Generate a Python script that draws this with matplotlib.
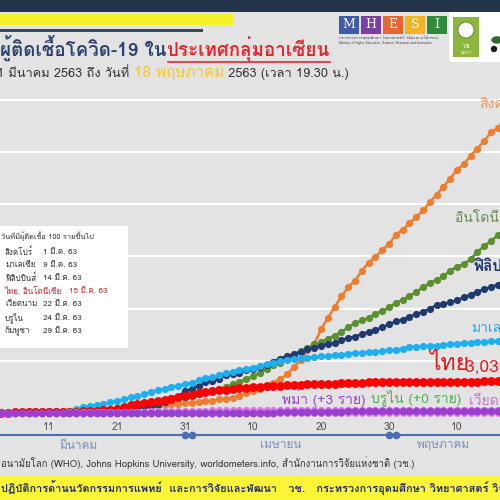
import numpy as np
import matplotlib
matplotlib.use("Agg")
from matplotlib import pyplot as plt
from matplotlib import font_manager as fm
from matplotlib.ft2font import FT2Font
from matplotlib.patches import Rectangle, Circle, Ellipse

# find a font that can draw Thai
thai_font = None
prefer = ['Noto Sans Thai', 'Noto Sans Thai UI', 'Loma', 'Garuda', 'Sarabun', 'Kinnari', 'Norasi']
names = sorted(fm.fontManager.ttflist, key=lambda f: (f.name not in prefer, f.name))
for f in names:
    try:
        if 0x0E01 in FT2Font(f.fname).get_charmap():
            thai_font = f.name
            break
    except Exception:
        pass
fams = [thai_font, 'DejaVu Sans'] if thai_font else ['DejaVu Sans']
plt.rcParams['font.family'] = fams

# cumulative cases, 1 Mar - 18 May 2563
singapore = [106,108,110,112,117,130,138,150,160,166,178,187,200,212,226,243,266,313,345,385,432,455,509,558,631,683,732,802,844,879,926,
             1000,1049,1114,1189,1309,1375,1481,1623,1910,2108,2299,2532,2918,3252,3699,4427,5050,5992,6588,8014,9125,10141,11178,12075,12693,13624,14423,14951,15641,16169,
             17101,17548,18205,18778,19410,20198,20939,21707,22460,23336,23822,24671,25346,26098,26891,27356,28038,28343]
indonesia = [0,2,2,2,2,4,4,6,19,27,34,34,69,96,117,134,172,227,311,369,450,514,579,686,790,893,1046,1155,1285,1414,1528,
             1677,1790,1986,2092,2273,2491,2738,2956,3293,3512,3842,4241,4557,4839,5136,5516,5923,6248,6575,6760,7135,7418,7775,8211,8607,8882,9096,9511,9771,10118,
             10551,10843,11192,11587,12071,12438,12776,13112,13645,14032,14265,14749,15438,16006,16496,17025,17514,18010]
philippines = [3,3,3,3,3,5,6,10,24,33,49,52,64,111,140,142,187,202,217,230,307,380,462,552,636,707,803,1075,1418,1546,2084,
               2311,2633,3018,3094,3246,3660,3764,3870,4076,4195,4428,4648,4932,5223,5453,5660,5878,6087,6259,6459,6599,6710,6981,7192,7294,7579,7777,7958,8212,8488,
               8772,8928,9223,9485,9684,10004,10343,10463,10610,10794,11086,11350,11618,11876,12091,12305,12513,12718]
malaysia = [29,29,36,50,50,83,93,99,117,129,149,149,197,238,428,566,673,790,900,1030,1183,1306,1518,1624,1796,2031,2161,2320,2470,2626,2766,
            2908,3116,3333,3483,3662,3793,3963,4119,4228,4346,4530,4683,4817,4987,5072,5182,5251,5305,5389,5425,5482,5532,5603,5691,5742,5780,5820,5851,5945,6002,
            6071,6176,6298,6353,6383,6428,6467,6535,6589,6656,6726,6742,6779,6819,6855,6872,6894,6941]
thailand = [42,43,43,43,47,48,50,50,50,53,59,70,75,82,114,147,177,212,272,322,411,599,721,827,934,1045,1136,1245,1388,1524,1651,
            1771,1875,1978,2067,2169,2220,2258,2369,2423,2473,2518,2551,2579,2613,2643,2672,2700,2733,2765,2792,2811,2826,2839,2854,2907,2922,2931,2938,2947,2954,
            2960,2966,2969,2987,2988,2989,2992,3000,3004,3009,3015,3017,3018,3025,3025,3025,3028,3031]
vietnam = [16,16,16,16,16,16,18,30,31,34,39,44,47,53,57,61,66,75,85,91,94,113,123,134,141,153,163,174,188,203,212,
           218,233,237,240,241,245,249,251,255,257,258,262,265,266,267,268,268,268,268,268,268,268,268,268,270,270,270,270,270,270,
           270,271,271,271,271,271,288,288,288,288,288,288,288,300,312,314,318,318]
myanmar = [0,0,0,0,0,0,0,0,0,0,0,0,0,0,0,0,0,0,0,0,0,0,3,3,5,8,8,10,10,14,15,
           15,20,21,21,21,22,22,22,23,27,28,39,41,62,74,85,88,98,111,119,121,127,139,144,144,146,146,146,150,151,
           151,151,155,155,161,161,161,171,177,178,180,180,180,180,181,182,182,184]
brunei = [0,0,0,0,0,0,0,0,1,1,6,11,25,37,40,50,54,68,75,78,83,88,91,104,104,109,114,115,120,126,127,
          129,131,133,134,135,135,135,135,135,136,136,136,136,136,136,136,136,137,138,138,138,138,138,138,138,138,138,138,138,138,
          138,138,138,138,138,138,138,141,141,141,141,141,141,141,141,141,141,141]
cambodia = [1,1,1,1,1,1,2,2,2,3,3,5,7,7,12,24,33,35,37,51,53,84,87,91,96,96,99,103,103,107,109,
            109,110,114,114,115,115,117,117,119,119,119,120,122,122,122,122,122,122,122,122,122,122,122,122,122,122,122,122,122,122,
            122,122,122,122,122,122,122,122,122,122,122,122,122,122,122,122,122,122]
laos = [0,0,0,0,0,0,0,0,0,0,0,0,0,0,0,0,0,0,0,0,0,0,0,2,3,6,6,8,8,9,9,
        10,10,10,11,11,12,15,16,16,19,19,19,19,19,19,19,19,19,19,19,19,19,19,19,19,19,19,19,19,19,
        19,19,19,19,19,19,19,19,19,19,19,19,19,19,19,19,19,19]
days = np.arange(1, len(singapore) + 1)

tick_days = [11, 21, 31, 41, 51, 61, 71]
tick_labels = ['11', '21', '31', '10', '20', '30', '10']
months = ['มีนาคม', 'เมษายน', 'พฤษภาคม']
month_pos = [15.3, 45, 69]

first100_names = ['สิงคโปร์', 'มาเลเซีย', 'ฟิลิปปินส์', 'ไทย, อินโดนีเซีย', 'เวียดนาม', 'บรูไน', 'กัมพูชา']
first100_dates = ['1 มี.ค. 63', '9 มี.ค. 63', '14 มี.ค. 63', '15 มี.ค. 63', '22 มี.ค. 63', '24 มี.ค. 63', '29 มี.ค. 63']

bg = '#e4e3e3'
fig = plt.figure(figsize=(5, 5), dpi=100, facecolor=bg)

def fx(px):
    return px / 500.0

def fy(py):
    return 1 - py / 500.0

def box(x0, y0, x1, y1, color, z=1):
    fig.add_artist(Rectangle((fx(x0), fy(y1)), (x1 - x0) / 500.0, (y1 - y0) / 500.0,
                             transform=fig.transFigure, color=color, zorder=z, lw=0))

def chain(parts, x0, y, **kw):
    # draw text pieces one after another on a common baseline
    r = fig.canvas.get_renderer()
    x = x0
    out = []
    for s, size, col, extra in parts:
        t = fig.text(fx(x), fy(y), s, fontsize=size, color=col, va='baseline', **extra, **kw)
        bb = t.get_window_extent(renderer=r)
        out.append((x, bb.x1))
        x = bb.x1
    return out

# header bars
box(0, 0, 500, 12, '#233548')
box(0, 14, 233, 25, '#f7f12c')
box(0, 29, 203, 32, '#3b4a5a')

# title
spans = chain([('ผู้ติดเชื้อโควิด-19 ใน', 13.5, '#2b4170', {'fontweight': 'bold'}),
               ('ประเทศกลุ่มอาเซียน', 13.5, '#e3262c', {'fontweight': 'bold'})], 0, 56)
x_a, x_b = spans[1]
fig.add_artist(plt.Line2D([fx(x_a + 1), fx(x_b)], [fy(62), fy(62)], transform=fig.transFigure,
                          color='#e3262c', lw=1.2))
chain([('1 มีนาคม 2563 ถึง วันที่ ', 9.2, '#333333', {}),
       ('18 พฤษภาคม', 11, '#f4c82a', {}),
       (' 2563 (เวลา 19.30 น.)', 9.2, '#333333', {})], -3, 77)

# MHESI logo
logo_cols = ['#3e5aa8', '#7a3f9f', '#e8652c', '#f2b325', '#2f8a3c']
for i, (letter, c) in enumerate(zip('MHESI', logo_cols)):
    x0 = 339 + i * 22
    box(x0, 16, x0 + 20, 34, c, z=2)
    fig.text(fx(x0 + 10), fy(25), letter, fontsize=9, color='white', family='DejaVu Serif',
             ha='center', va='center', zorder=3)
fig.text(fx(339), fy(38), 'กระทรวงการอุดมศึกษา วิทยาศาสตร์ วิจัยและนวัตกรรม', fontsize=3,
         color='#444444', va='center')
fig.text(fx(339), fy(43), 'Ministry of Higher Education, Science, Research and Innovation',
         fontsize=2.3, color='#444444', va='center')
# NRCT logo
box(449, 12, 500, 62, 'white', z=2)
box(453, 17, 479, 57, '#8db63c', z=3)
fig.add_artist(Circle((fx(466), fy(30)), 8 / 500.0, transform=fig.transFigure,
                      facecolor='white', edgecolor='#5a7a2a', lw=0.6, zorder=4))
fig.text(fx(466), fy(46), 'วช', fontsize=5, color='white', ha='center', va='center', zorder=4)
fig.text(fx(466), fy(53), 'NRCT', fontsize=3, color='white', ha='center', va='center', zorder=4)
fig.add_artist(Ellipse((fx(497), fy(40)), 10 / 500.0, 6 / 500.0, transform=fig.transFigure,
                       color='#2e6b2e', zorder=4))
fig.add_artist(Circle((fx(494), fy(49)), 2.5 / 500.0, transform=fig.transFigure,
                      color='#1a1a1a', zorder=4))

# chart
ax = fig.add_axes([0, fy(435), 1, (435 - 90) / 500.0])
ax.set_facecolor('none')
ax.set_xlim(3.79, 77.32)
ax.set_ylim(-2109, 30958)
for v in range(5000, 30001, 5000):
    ax.axhline(v, color='white', lw=1.5, zorder=0)

series = [
    (singapore, '#ed7d31', 5.2),
    (indonesia, '#5b8f32', 5.2),
    (philippines, '#203a70', 5.2),
    (malaysia, '#1eaff0', 5.2),
    (thailand, '#ff0000', 6.4),
    (laos, '#e58ae0', 5.2),
    (cambodia, '#e58ae0', 5.2),
    (brunei, '#d67be0', 5.2),
    (vietnam, '#d27ae6', 5.2),
    (myanmar, '#9b3fd0', 5.6),
]
for vals, col, ms in series:
    ax.plot(days, vals, '-o', color=col, lw=1.8, ms=ms, mec=col, mew=0)

for spine in ['top', 'left', 'right']:
    ax.spines[spine].set_visible(False)
ax.spines['bottom'].set_color('#4e6eae')
ax.spines['bottom'].set_linewidth(1.5)
ax.set_xticks([])
ax.set_yticks([])

trans = ax.get_xaxis_transform()
for d, lab in zip(tick_days, tick_labels):
    ax.text(d, 0.023, lab, transform=trans, ha='center', va='center', fontsize=7.5, color='#555555')
for d, lab in zip(month_pos, months):
    ax.text(d, -0.03, lab, transform=trans, ha='center', va='center', fontsize=8.5,
            color='#7b8fc2', clip_on=False)
ax.plot([31, 32, 61, 62], [0, 0, 0, 0], 'o', color='#4a6fb8', ms=4.5, transform=trans, clip_on=False)

# series labels
fig.text(fx(479), fy(104), 'สิงคโปร์', fontsize=10, color='#ee9a62', va='center')
fig.text(fx(455), fy(218), 'อินโดนีเซีย', fontsize=10, color='#6a8a55', va='center')
fig.text(fx(474), fy(265), 'ฟิลิปปินส์', fontsize=11, color='#203a70', va='center', fontweight='bold')
fig.text(fx(471), fy(329), 'มาเลเซีย', fontsize=10, color='#1ca8e6', va='center')
fig.text(fx(429), fy(364), 'ไทย', fontsize=16.5, color='#e01a1a', va='center')
fig.text(fx(465), fy(368), '3,031 ราย', fontsize=12.5, color='#e01a1a', va='center')
fig.text(fx(282), fy(398), 'พม่า (+3 ราย)', fontsize=10, color='#9b3fd0', va='center')
fig.text(fx(371), fy(398), 'บรูไน (+0 ราย)', fontsize=10, color='#4caf50', va='center')
fig.text(fx(469), fy(400), 'เวียดนาม (+0 ราย)', fontsize=10, color='#cc6fdc', va='center')

# table of first 100 cases
box(0, 226, 128, 348, 'white', z=1)
fig.text(fx(1), fy(237), 'วันที่มีผู้ติดเชื้อ 100 รายขึ้นไป', fontsize=5.3, color='#333333', va='center', zorder=3)
for i, (n, d) in enumerate(zip(first100_names, first100_dates)):
    c = '#c0303a' if i == 3 else '#333333'
    yy = 252 + i * 13.2
    fig.text(fx(5), fy(yy), n, fontsize=5.8, color=c, va='center', zorder=3)
    fig.text(fx(43) if i != 3 else fx(69), fy(yy), d, fontsize=5.8, color=c, va='center', zorder=3)

# footer
fig.text(fx(1), fy(463), 'อนามัยโลก (WHO), Johns Hopkins University, worldometers.info, สำนักงานการวิจัยแห่งชาติ (วช.)',
         fontsize=6.9, color='#333333', va='center')
box(0, 476, 500, 500, '#fcf436')
fig.text(fx(1), fy(488), 'ปฏิบัติการด้านนวัตกรรมการแพทย์  และการวิจัยและพัฒนา   วช.   กระทรวงการอุดมศึกษา วิทยาศาสตร์ วิจัยและนวัตกรรม',
         fontsize=7.9, fontweight='bold', color='#1f2f6e', va='center', zorder=3)

fig.savefig('out.png', dpi=100, facecolor=bg)
